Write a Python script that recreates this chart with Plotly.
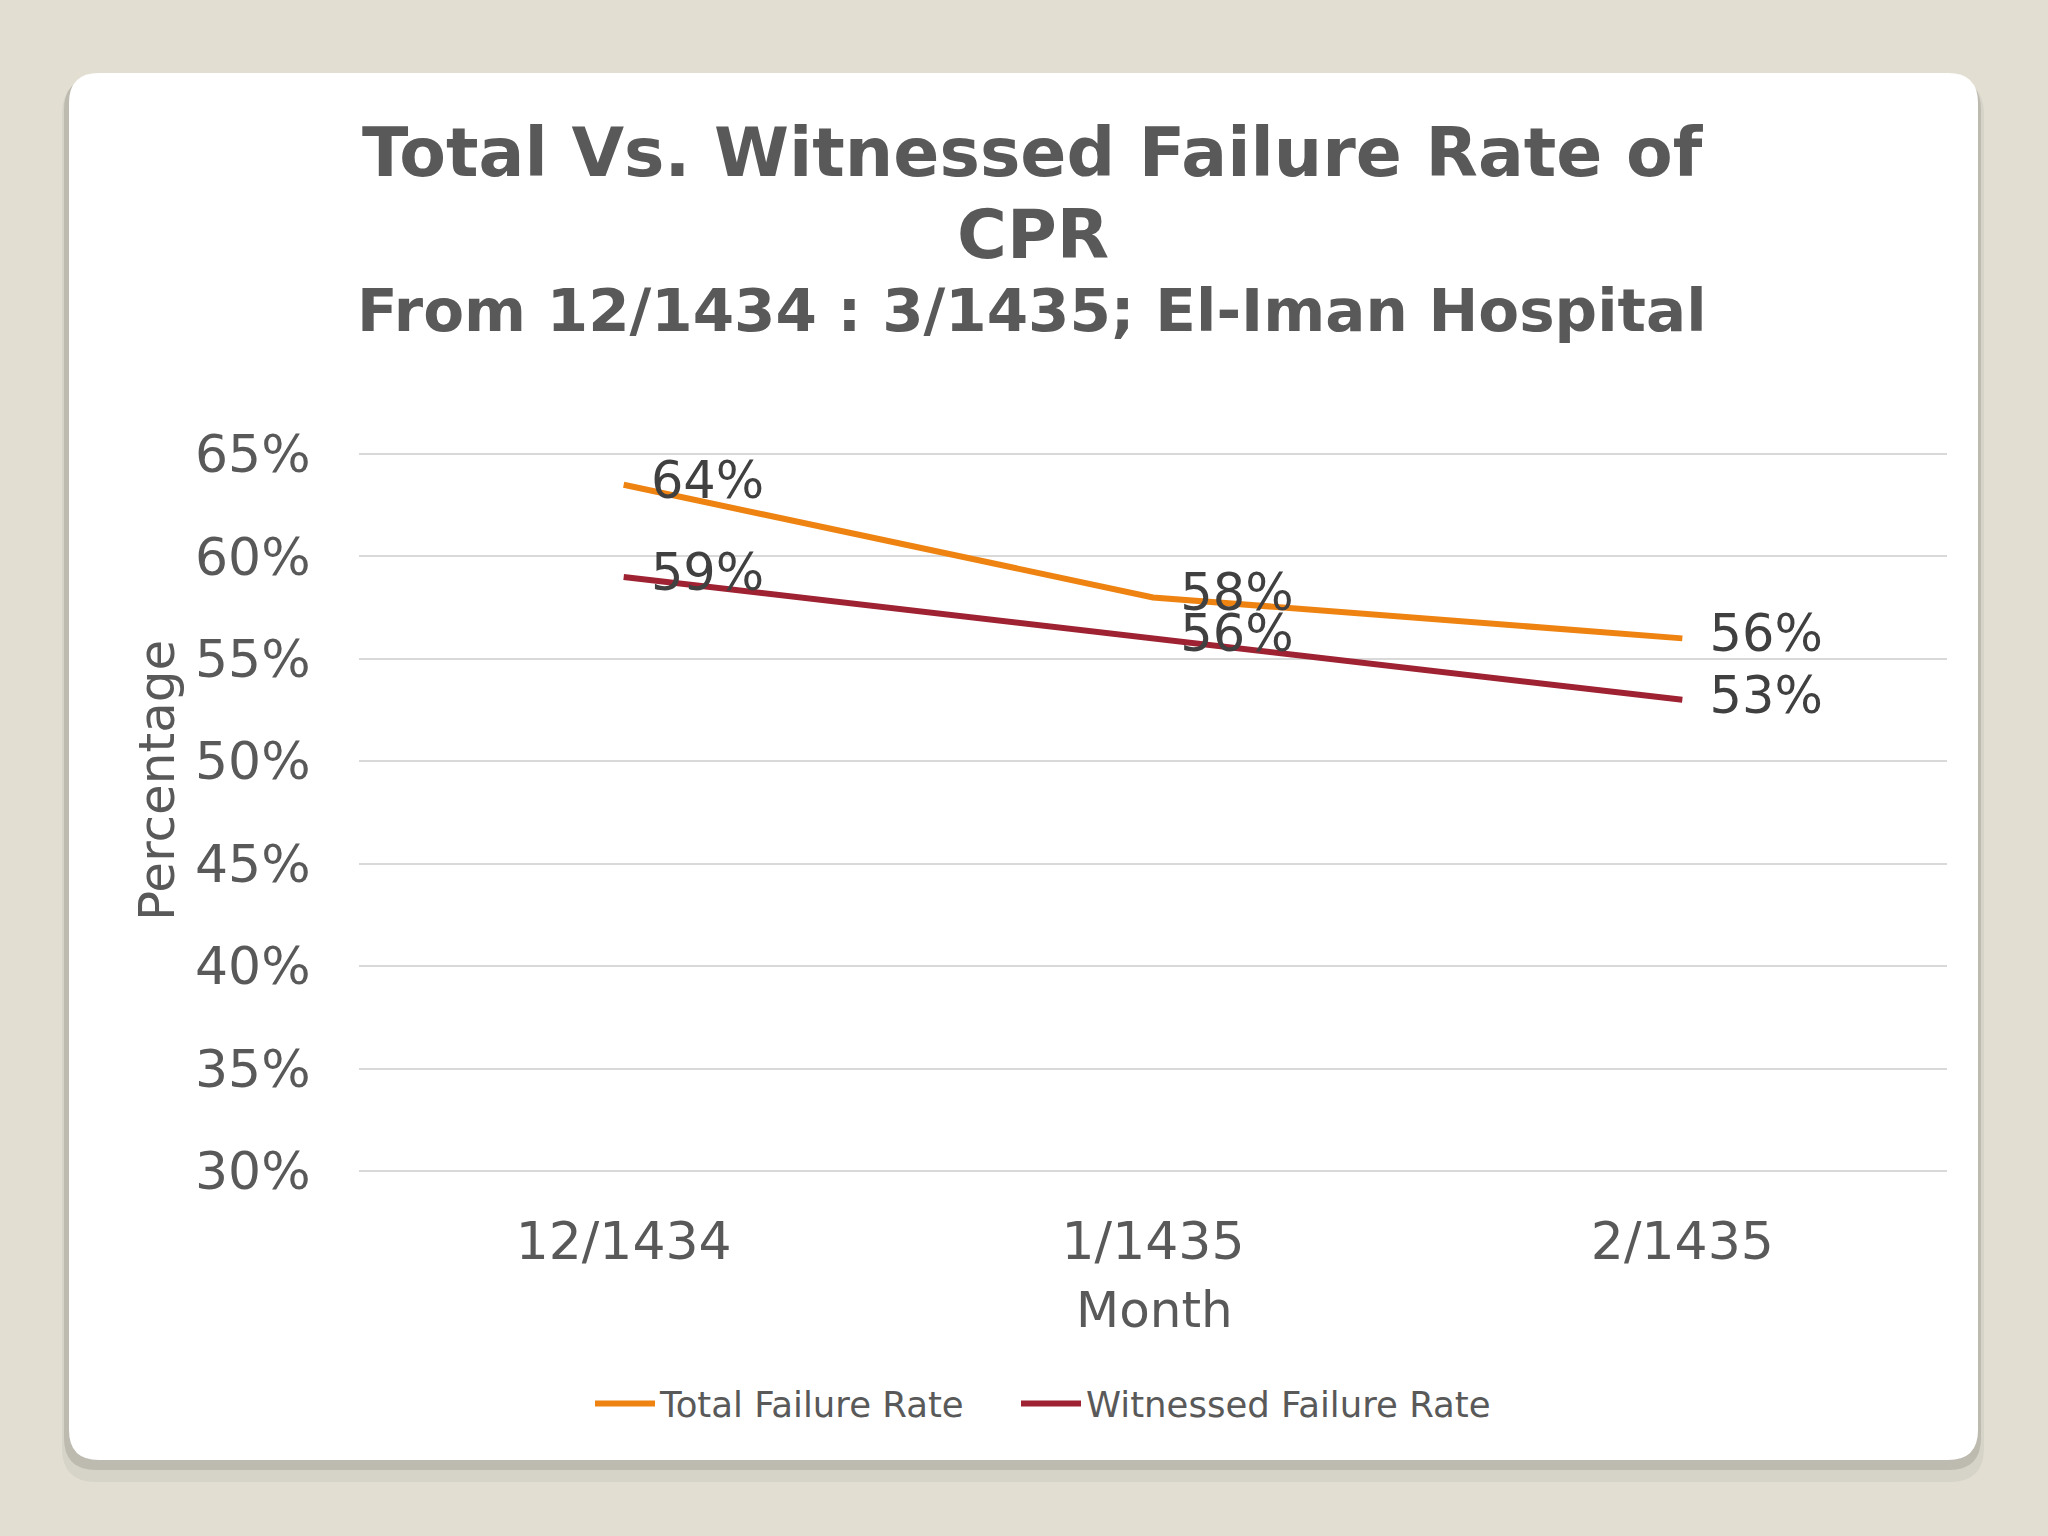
import plotly.graph_objects as go

# 数据
months = ["12/1434", "1/1435", "2/1435"]
total_rate = [0.635, 0.58, 0.56]
total_labels = ["64%", "58%", "56%"]
witnessed_rate = [0.59, 0.56, 0.53]
witnessed_labels = ["59%", "56%", "53%"]

W, H = 2048, 1536
PL, PR, PT, PB = 359, 1947, 453, 1172  # plot area in pixels


def px_x(p):
    return (p - PL) / (PR - PL)


def px_y(p):
    return (PB - p) / (PB - PT)


def rounded_rect(x0, y0, x1, y1, r):
    # pixel coords -> paper path with rounded corners
    pts = [
        ("M", (x0 + r, y0)), ("L", (x1 - r, y0)), ("Q", (x1, y0), (x1, y0 + r)),
        ("L", (x1, y1 - r)), ("Q", (x1, y1), (x1 - r, y1)),
        ("L", (x0 + r, y1)), ("Q", (x0, y1), (x0, y1 - r)),
        ("L", (x0, y0 + r)), ("Q", (x0, y0), (x0 + r, y0)),
    ]
    out = []
    for p in pts:
        cmd = p[0]
        coords = " ".join(f"{px_x(a):.5f},{px_y(b):.5f}" for a, b in p[1:])
        out.append(f"{cmd}{coords}")
    return " ".join(out) + " Z"


TEXT = "#595959"
LABEL = "#404040"
FONT = "DejaVu Sans"

fig = go.Figure()
fig.add_trace(go.Scatter(
    x=months, y=total_rate, name="Total Failure Rate", legend="legend",
    mode="lines+markers+text", text=total_labels, textposition="middle right",
    line=dict(color="#EE8312", width=6),
    marker=dict(size=42, color="rgba(0,0,0,0)"),
    textfont=dict(size=51, color=LABEL, family=FONT),
    cliponaxis=False,
))
fig.add_trace(go.Scatter(
    x=months, y=witnessed_rate, name="Witnessed Failure Rate", legend="legend2",
    mode="lines+markers+text", text=witnessed_labels, textposition="middle right",
    line=dict(color="#9E2232", width=6),
    marker=dict(size=42, color="rgba(0,0,0,0)"),
    textfont=dict(size=51, color=LABEL, family=FONT),
    cliponaxis=False,
))

shapes = [
    dict(type="path", xref="paper", yref="paper", layer="below",
         path=rounded_rect(62, 80, 1984, 1482, 34),
         fillcolor="#D6D3C8", line=dict(width=0)),
    dict(type="path", xref="paper", yref="paper", layer="below",
         path=rounded_rect(64, 78, 1981, 1470, 32),
         fillcolor="#BDBAB0", line=dict(width=0)),
    dict(type="path", xref="paper", yref="paper", layer="below",
         path=rounded_rect(69, 73, 1978, 1460, 30),
         fillcolor="white", line=dict(width=0)),
]

annotations = [
    dict(text="<b>Total Vs. Witnessed Failure Rate of</b>", x=px_x(1033), y=px_y(152),
         font=dict(size=68, color=TEXT, family=FONT)),
    dict(text="<b>CPR</b>", x=px_x(1033), y=px_y(235),
         font=dict(size=68, color=TEXT, family=FONT)),
    dict(text="<b>From 12/1434 : 3/1435; El-Iman Hospital</b>", x=px_x(1032), y=px_y(310),
         font=dict(size=59.5, color=TEXT, family=FONT)),
    dict(text="Percentage", x=px_x(157), y=px_y(780), textangle=-90,
         font=dict(size=50, color=TEXT, family=FONT)),
    dict(text="Month", x=px_x(1154), y=px_y(1310),
         font=dict(size=50, color=TEXT, family=FONT)),
]
for a in annotations:
    a.update(xref="paper", yref="paper", showarrow=False, xanchor="center", yanchor="middle")

legend_style = dict(
    orientation="h", yanchor="middle", xanchor="left", y=px_y(1404),
    font=dict(size=35.5, color=TEXT, family=FONT), bgcolor="rgba(0,0,0,0)",
    itemwidth=60, borderwidth=0,
)

fig.update_layout(
    width=W, height=H,
    margin=dict(l=PL, r=W - PR, t=PT, b=H - PB, pad=0),
    paper_bgcolor="#E2DED2",
    plot_bgcolor="rgba(0,0,0,0)",
    font=dict(family=FONT, color=TEXT),
    shapes=shapes,
    annotations=annotations,
    showlegend=True,
    legend=dict(legend_style, x=px_x(590)),
    legend2=dict(legend_style, x=px_x(1016)),
)
fig.update_xaxes(
    showgrid=False, zeroline=False, showline=False,
    ticks="outside", ticklen=24, tickcolor="rgba(0,0,0,0)",
    tickfont=dict(size=52, color=TEXT, family=FONT),
    range=[-0.5, 2.5],
)
fig.update_yaxes(
    range=[0.2995, 0.6505], dtick=0.05, tick0=0.30, tickformat=".0%",
    showgrid=True, gridcolor="#D9D9D9", gridwidth=2,
    zeroline=False, showline=False,
    ticks="outside", ticklen=37, tickcolor="rgba(0,0,0,0)",
    tickfont=dict(size=52, color=TEXT, family=FONT),
)

fig.write_html("out.html", config={"displayModeBar": False},
               post_script="document.body.style.margin='0';")
